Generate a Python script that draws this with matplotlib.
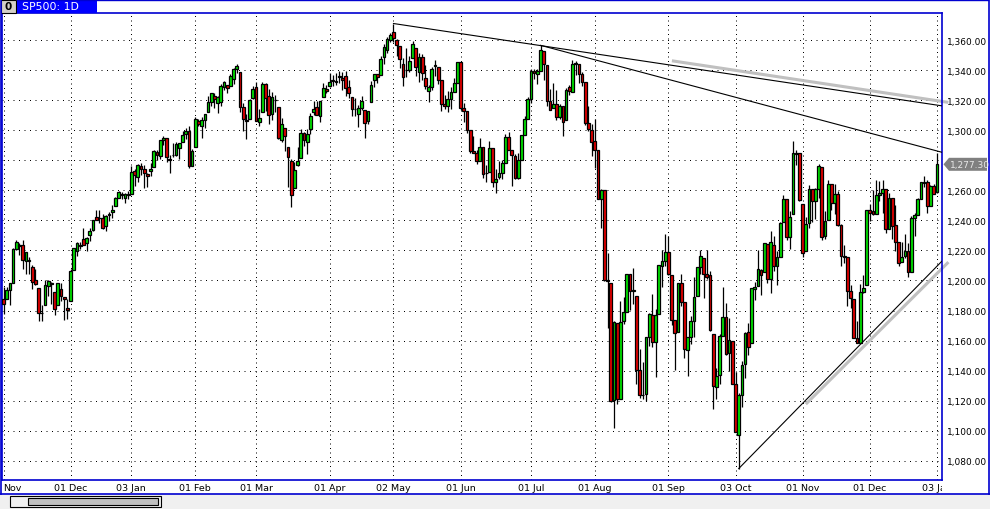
import numpy as np
import matplotlib
matplotlib.use("Agg")
import matplotlib.pyplot as plt
from matplotlib.patches import Rectangle, Polygon
from matplotlib.ticker import FixedLocator, FuncFormatter
from matplotlib.transforms import Bbox

symbol = "SP500: 1D"
last_price = 1277.30

# bars per month in the feed, Nov 2010 .. Jan 2012 (only Jan 3 of 2012)
month_days = [21, 19, 20, 19, 23, 20, 21, 22, 20, 23, 21, 21, 21, 21, 1]
month_labels = ["Nov", "01 Dec", "03 Jan", "01 Feb", "01 Mar", "01 Apr", "02 May",
                "01 Jun", "01 Jul", "01 Aug", "01 Sep", "03 Oct", "01 Nov",
                "01 Dec", "03 Jan"]
price_ticks = list(range(1080, 1361, 20))

opens = [
    1187.8, 1187.9, 1193.8, 1198.3, 1221.2, 1223.2, 1223.6, 1213.1, 1213.0, 1209.1, 1200.4, 1194.8, 1178.3, 1183.8, 1196.1, 1198.1, 1192.5, 1183.7, 1194.2, 1189.1, 1182.0,
    1186.6, 1206.8, 1219.9, 1223.9, 1227.3, 1225.0, 1230.1, 1233.9, 1242.5, 1241.8, 1241.6, 1236.3, 1243.6, 1245.8, 1249.4, 1254.9, 1257.5, 1254.7, 1256.8,
    1257.6, 1272.9, 1268.8, 1276.3, 1274.4, 1270.8, 1272.6, 1275.7, 1285.8, 1282.9, 1293.2, 1294.5, 1280.9, 1283.6, 1283.3, 1288.2, 1292.0, 1297.5, 1299.6, 1276.5,
    1289.1, 1305.9, 1302.8, 1307.0, 1311.9, 1318.8, 1322.5, 1318.1, 1318.7, 1328.7, 1330.4, 1329.5, 1334.4, 1340.4, 1338.9, 1315.4, 1307.1, 1307.3, 1321.6,
    1328.6, 1305.5, 1312.4, 1330.7, 1322.7, 1311.1, 1319.9, 1315.7, 1293.4, 1301.2, 1288.5, 1279.5, 1261.6, 1276.7, 1281.7, 1298.3, 1292.2, 1300.6, 1311.8, 1315.5, 1309.4, 1321.9, 1327.4,
    1329.5, 1333.6, 1332.0, 1335.9, 1334.8, 1336.2, 1329.0, 1322.0, 1314.0, 1311.1, 1314.5, 1313.4, 1306.0, 1319.1, 1333.2, 1337.1, 1336.8, 1348.4, 1353.5, 1360.1,
    1365.2, 1359.8, 1355.9, 1344.2, 1340.2, 1340.2, 1348.3, 1354.5, 1338.9, 1348.7, 1334.8, 1326.1, 1328.5, 1342.4, 1342.0, 1333.1, 1317.7, 1316.4, 1320.6, 1325.7, 1331.1,
    1345.2, 1314.6, 1312.9, 1300.3, 1286.3, 1284.6, 1279.6, 1288.6, 1271.6, 1272.2, 1287.9, 1265.5, 1268.6, 1271.5, 1278.4, 1295.5, 1286.6, 1283.0, 1268.4, 1280.2, 1296.9, 1307.6,
    1320.6, 1339.6, 1337.6, 1339.6, 1352.4, 1343.3, 1319.6, 1314.5, 1317.7, 1308.9, 1315.9, 1307.1, 1328.7, 1325.7, 1343.8, 1344.3, 1337.4, 1331.9, 1304.8, 1300.1,
    1292.6, 1286.6, 1254.3, 1260.2, 1200.3, 1198.5, 1120.2, 1171.8, 1121.3, 1172.9, 1178.9, 1204.2, 1192.9, 1189.6, 1140.5, 1123.6, 1124.4, 1162.2, 1176.7, 1158.9, 1177.9, 1209.8, 1213.0,
    1219.1, 1203.9, 1174.0, 1165.9, 1198.0, 1185.4, 1153.5, 1162.6, 1173.3, 1189.4, 1209.2, 1215.0, 1204.5, 1203.6, 1164.6, 1128.8, 1136.9, 1163.3, 1175.4, 1151.7, 1159.9,
    1131.2, 1097.4, 1124.0, 1144.1, 1166.0, 1158.2, 1194.6, 1196.2, 1207.0, 1205.7, 1224.5, 1200.8, 1223.5, 1209.9, 1215.4, 1238.7, 1254.0, 1229.2, 1244.0, 1284.4, 1285.0,
    1251.0, 1219.6, 1238.3, 1260.8, 1253.2, 1261.1, 1275.2, 1229.6, 1240.1, 1263.9, 1251.7, 1257.8, 1236.6, 1216.2, 1215.6, 1193.0, 1187.5, 1161.4, 1158.7, 1192.6, 1196.7,
    1246.9, 1246.0, 1244.3, 1257.2, 1258.1, 1260.9, 1234.5, 1255.1, 1236.8, 1225.7, 1212.1, 1216.1, 1219.7, 1205.7, 1241.3, 1243.7, 1254.0, 1265.0, 1265.4, 1249.8, 1262.8,
    1258.9,
]
highs = [
    1195.8, 1195.9, 1198.3, 1221.3, 1227.1, 1224.6, 1226.8, 1218.8, 1215.5, 1210.5, 1207.4, 1194.8, 1183.6, 1200.3, 1200.0, 1198.9, 1192.5, 1198.6, 1198.4, 1189.1, 1187.4,
    1207.6, 1221.9, 1225.6, 1225.8, 1235.1, 1228.9, 1234.7, 1240.4, 1246.7, 1246.6, 1244.3, 1243.8, 1245.8, 1250.2, 1255.8, 1259.4, 1258.6, 1258.4, 1259.3,
    1276.2, 1274.1, 1277.6, 1278.2, 1276.8, 1271.5, 1277.9, 1286.9, 1286.7, 1293.2, 1296.1, 1294.6, 1283.4, 1291.2, 1291.9, 1291.3, 1299.7, 1301.3, 1302.7, 1287.2,
    1308.9, 1307.6, 1308.6, 1311.0, 1322.9, 1324.9, 1324.5, 1322.8, 1330.8, 1332.9, 1330.4, 1337.6, 1341.5, 1344.1, 1338.9, 1317.9, 1310.9, 1320.6, 1329.4,
    1332.1, 1314.2, 1332.0, 1331.1, 1327.7, 1325.7, 1323.2, 1315.7, 1308.4, 1301.2, 1288.5, 1280.9, 1278.9, 1288.9, 1300.6, 1299.0, 1300.5, 1311.3, 1319.2, 1319.7, 1319.5, 1331.7, 1329.8,
    1337.9, 1336.7, 1338.2, 1339.4, 1338.8, 1339.5, 1333.2, 1322.0, 1321.4, 1316.8, 1322.9, 1313.4, 1312.7, 1332.7, 1337.5, 1337.6, 1349.6, 1357.5, 1361.7, 1364.6,
    1370.6, 1360.8, 1355.9, 1348.0, 1354.4, 1349.4, 1359.4, 1354.5, 1351.1, 1350.5, 1343.3, 1330.4, 1341.8, 1346.8, 1342.0, 1333.1, 1323.7, 1325.9, 1328.5, 1334.6, 1345.2,
    1345.2, 1318.0, 1312.9, 1300.3, 1296.2, 1287.0, 1294.5, 1288.6, 1277.0, 1292.5, 1287.9, 1274.1, 1279.8, 1280.4, 1297.6, 1298.6, 1286.6, 1283.9, 1284.9, 1296.8, 1309.2, 1322.0,
    1341.0, 1340.9, 1340.9, 1356.5, 1352.4, 1343.3, 1327.2, 1331.5, 1326.9, 1317.7, 1315.9, 1328.1, 1330.4, 1347.0, 1346.1, 1344.3, 1338.5, 1331.9, 1316.3, 1304.2,
    1307.4, 1286.6, 1261.2, 1260.2, 1218.1, 1198.5, 1172.9, 1171.8, 1186.3, 1189.0, 1204.5, 1204.2, 1208.5, 1189.6, 1154.5, 1145.5, 1162.4, 1178.6, 1190.7, 1181.2, 1210.3, 1220.1, 1230.7,
    1229.3, 1203.9, 1174.0, 1198.6, 1204.4, 1185.4, 1162.5, 1176.4, 1202.4, 1209.1, 1220.1, 1215.0, 1220.4, 1206.3, 1164.6, 1141.7, 1164.2, 1195.9, 1184.7, 1175.1, 1159.9,
    1139.0, 1125.1, 1146.1, 1165.6, 1171.4, 1194.9, 1199.2, 1220.3, 1207.5, 1224.6, 1224.5, 1233.1, 1229.6, 1219.4, 1239.0, 1256.6, 1254.0, 1246.3, 1292.7, 1287.1, 1285.0,
    1251.0, 1242.5, 1263.2, 1260.8, 1261.7, 1277.6, 1275.2, 1246.2, 1267.0, 1263.9, 1264.3, 1259.6, 1237.7, 1223.5, 1215.6, 1196.8, 1187.5, 1172.7, 1197.4, 1203.7, 1247.1,
    1251.1, 1260.1, 1266.7, 1266.0, 1267.1, 1260.9, 1258.3, 1255.1, 1249.9, 1225.7, 1225.6, 1231.0, 1224.6, 1242.8, 1245.1, 1255.2, 1265.4, 1269.4, 1267.0, 1263.5, 1264.1,
    1284.6,
]
lows = [
    1177.7, 1187.9, 1183.6, 1198.3, 1220.3, 1217.2, 1207.9, 1204.3, 1204.5, 1194.1, 1197.2, 1173.0, 1173.0, 1183.8, 1189.4, 1184.3, 1176.9, 1183.7, 1186.3, 1173.6, 1174.1,
    1186.6, 1206.8, 1216.6, 1220.7, 1223.3, 1219.5, 1226.2, 1232.6, 1240.3, 1238.2, 1234.0, 1232.9, 1239.9, 1241.5, 1249.4, 1254.9, 1254.0, 1251.5, 1254.2,
    1257.6, 1262.7, 1265.4, 1270.4, 1261.7, 1262.2, 1269.8, 1275.7, 1280.5, 1281.1, 1290.3, 1278.9, 1271.3, 1282.1, 1282.5, 1281.1, 1292.0, 1294.4, 1275.1, 1276.5,
    1289.1, 1302.6, 1294.8, 1301.7, 1311.9, 1316.0, 1314.9, 1311.7, 1316.1, 1326.9, 1324.6, 1329.5, 1331.0, 1338.1, 1312.3, 1299.6, 1294.3, 1307.3, 1320.9,
    1306.1, 1302.6, 1312.4, 1312.6, 1303.9, 1306.9, 1312.3, 1294.2, 1292.0, 1286.4, 1261.9, 1249.1, 1261.6, 1276.2, 1281.7, 1289.2, 1284.1, 1297.7, 1310.2, 1310.2, 1305.3, 1321.9, 1325.0,
    1328.9, 1329.1, 1330.0, 1331.1, 1326.6, 1322.9, 1321.1, 1309.5, 1309.2, 1302.4, 1313.7, 1294.7, 1304.0, 1319.1, 1328.8, 1331.7, 1336.8, 1344.2, 1351.6, 1358.7,
    1358.6, 1349.5, 1341.5, 1329.2, 1335.6, 1338.6, 1348.3, 1336.4, 1332.0, 1333.4, 1327.3, 1318.5, 1326.6, 1336.4, 1330.7, 1312.9, 1313.9, 1311.8, 1314.4, 1325.7, 1331.1,
    1313.7, 1305.6, 1297.9, 1284.9, 1284.7, 1277.4, 1279.6, 1268.3, 1265.6, 1272.2, 1261.9, 1258.1, 1267.4, 1267.6, 1278.4, 1286.8, 1262.9, 1267.2, 1267.5, 1280.2, 1296.9, 1307.6,
    1318.2, 1334.3, 1330.9, 1339.6, 1333.7, 1316.4, 1313.3, 1314.5, 1306.5, 1307.2, 1295.9, 1307.1, 1323.1, 1325.7, 1336.9, 1331.1, 1329.1, 1303.5, 1299.2, 1282.9,
    1274.7, 1254.0, 1234.6, 1199.5, 1168.1, 1119.3, 1101.5, 1118.0, 1121.3, 1170.7, 1178.9, 1180.5, 1184.5, 1131.0, 1122.1, 1121.1, 1120.1, 1156.3, 1155.5, 1135.9, 1177.9, 1195.8, 1209.4,
    1203.9, 1170.6, 1140.1, 1165.9, 1183.3, 1148.4, 1136.1, 1157.4, 1162.7, 1189.4, 1204.5, 1188.4, 1201.3, 1166.2, 1114.2, 1121.4, 1131.1, 1163.3, 1150.4, 1139.9, 1131.3,
    1098.9, 1074.8, 1116.0, 1134.9, 1150.3, 1158.2, 1187.3, 1196.2, 1190.6, 1205.7, 1198.6, 1191.5, 1206.3, 1197.3, 1215.4, 1238.7, 1226.8, 1221.1, 1244.0, 1277.0, 1253.2,
    1215.4, 1219.6, 1234.8, 1238.9, 1240.8, 1255.0, 1226.6, 1227.7, 1240.1, 1246.7, 1244.3, 1236.4, 1209.4, 1211.4, 1183.2, 1181.7, 1161.8, 1158.7, 1158.7, 1191.8, 1196.7,
    1239.7, 1243.4, 1244.3, 1253.0, 1244.8, 1231.5, 1234.5, 1227.3, 1219.4, 1209.5, 1212.1, 1215.2, 1202.4, 1205.7, 1229.5, 1243.7, 1254.0, 1262.3, 1244.7, 1249.8, 1257.5,
    1258.2,
]
closes = [
    1184.4, 1193.6, 1198.0, 1221.1, 1225.9, 1223.3, 1213.4, 1218.7, 1213.5, 1199.2, 1197.8, 1178.3, 1178.6, 1196.7, 1199.7, 1197.8, 1180.7, 1198.4, 1189.4, 1187.8, 1180.6,
    1206.1, 1221.5, 1224.7, 1223.1, 1223.8, 1228.3, 1233.0, 1240.4, 1240.5, 1241.6, 1235.2, 1242.9, 1243.9, 1247.1, 1254.6, 1258.8, 1256.8, 1257.5, 1257.6,
    1271.9, 1270.2, 1276.6, 1273.9, 1271.5, 1269.8, 1274.5, 1286.0, 1283.8, 1293.2, 1295.0, 1281.9, 1280.3, 1283.4, 1290.8, 1291.2, 1296.6, 1299.5, 1276.3, 1286.1,
    1307.6, 1304.0, 1307.1, 1310.9, 1319.1, 1324.6, 1320.9, 1321.9, 1329.2, 1332.3, 1328.0, 1336.3, 1340.4, 1343.0, 1315.4, 1307.4, 1306.1, 1319.9, 1327.2,
    1306.3, 1308.4, 1331.0, 1321.2, 1310.1, 1321.8, 1320.0, 1295.1, 1304.3, 1296.4, 1281.9, 1256.9, 1273.7, 1279.2, 1298.4, 1293.8, 1297.5, 1309.7, 1313.8, 1310.2, 1319.4, 1328.3, 1325.8,
    1332.4, 1332.9, 1332.6, 1335.5, 1333.5, 1328.2, 1324.5, 1314.2, 1314.4, 1314.5, 1319.7, 1305.1, 1312.6, 1330.4, 1337.4, 1335.3, 1347.2, 1355.7, 1360.5, 1363.6,
    1361.2, 1356.6, 1347.3, 1335.1, 1340.2, 1346.3, 1357.2, 1342.1, 1348.7, 1337.8, 1329.5, 1329.0, 1340.7, 1343.6, 1333.3, 1317.4, 1316.3, 1320.5, 1325.7, 1331.1, 1345.2,
    1314.6, 1312.9, 1300.2, 1286.2, 1284.9, 1279.6, 1289.0, 1271.0, 1271.8, 1287.9, 1265.4, 1267.6, 1271.5, 1278.4, 1295.5, 1287.1, 1283.5, 1268.5, 1280.1, 1296.7, 1307.4, 1320.6,
    1339.7, 1337.9, 1339.2, 1353.2, 1343.8, 1319.5, 1313.6, 1317.7, 1308.9, 1316.1, 1305.4, 1326.7, 1325.8, 1343.8, 1345.0, 1337.4, 1331.9, 1304.9, 1300.7, 1292.3,
    1286.9, 1254.1, 1260.3, 1200.1, 1199.4, 1119.5, 1172.5, 1120.8, 1172.6, 1178.8, 1204.5, 1192.8, 1193.9, 1140.7, 1123.5, 1123.8, 1162.4, 1177.6, 1159.3, 1176.8, 1210.1, 1212.9, 1218.9,
    1204.4, 1174.0, 1165.2, 1198.6, 1185.9, 1154.2, 1162.3, 1172.9, 1188.7, 1209.1, 1216.0, 1204.1, 1202.1, 1166.8, 1129.6, 1136.4, 1163.0, 1175.4, 1151.1, 1160.4, 1131.4,
    1099.2, 1124.0, 1144.0, 1165.0, 1155.5, 1194.9, 1195.5, 1207.3, 1203.7, 1224.6, 1200.9, 1225.4, 1209.9, 1215.4, 1238.3, 1254.2, 1229.1, 1242.0, 1284.6, 1285.1, 1253.3,
    1218.3, 1237.9, 1261.2, 1253.2, 1261.1, 1275.9, 1229.1, 1239.7, 1263.9, 1251.8, 1257.8, 1236.9, 1216.1, 1215.7, 1193.0, 1188.0, 1161.8, 1158.7, 1192.6, 1195.2, 1247.0,
    1244.6, 1244.3, 1257.1, 1258.5, 1261.0, 1234.4, 1255.2, 1236.5, 1225.7, 1211.8, 1215.8, 1219.7, 1205.4, 1241.3, 1243.7, 1254.0, 1265.3, 1265.4, 1249.6, 1263.0, 1257.6,
    1277.3,
]

# hand-drawn trend lines: (start bar, start price, end price at right edge)
trend_black = [(122, 1371.0, 1316.2), (168, 1356.5, 1285.3), (230, 1074.8, 1212.9)]
trend_grey = [(209.1, 1346.2, 1318.5), (251.0, 1117.7, 1212.2)]

W, H = 990, 510
BLUE = "#0000d0"
UP, DOWN = "#00e600", "#e60000"

fig = plt.figure(figsize=(W / 100, H / 100), dpi=100)
fig.patch.set_facecolor("white")
ax = fig.add_axes([2 / W, (H - 481) / H, 940 / W, 467 / H])

x = np.arange(len(closes))
o, h, l, c = (np.array(a) for a in (opens, highs, lows, closes))
up = c >= o
xmin, xmax = -0.47, len(closes) - 1 + 1.6

ax.vlines(x, l, h, color="black", lw=0.9, zorder=3)
ax.bar(x, np.maximum(np.abs(c - o), 0.15), bottom=np.minimum(o, c), width=0.86,
       color=np.where(up, UP, DOWN), edgecolor="black", linewidth=0.9, zorder=4)

for x0, p0, p1 in trend_black:
    ax.plot([x0, xmax], [p0, p1], color="black", lw=0.8, zorder=5)
for x0, p0, p1 in trend_grey:
    ax.plot([x0, xmax + 2], [p0, p1], color="#c0c0c0", lw=2.2, zorder=2,
            solid_capstyle="butt", clip_on=False)

ax.set_xlim(xmin, xmax)
ax.set_ylim(1067.2, 1378.0)

tick_idx = np.concatenate([[0], np.cumsum(month_days)[:-1]])
ax.xaxis.set_major_locator(FixedLocator(tick_idx))
ax.set_xticklabels(month_labels)
ax.yaxis.set_major_locator(FixedLocator(price_ticks))
# the 1,280.00 label sits under the last-price tag
ax.yaxis.set_major_formatter(FuncFormatter(
    lambda v, p: "" if abs(v - last_price) < 8 else f"{v:,.2f}"))
ax.yaxis.tick_right()
ax.tick_params(axis="y", length=0, pad=3.8, labelsize=6.5)
ax.tick_params(axis="x", length=0, pad=2.5, labelsize=6.8)
xl = ax.get_xticklabels()
xl[0].set_horizontalalignment("left")
# last date label is cut by the price scale, as in the terminal
xl[-1].set_clip_box(Bbox([[0, 0], [942, H]]))
xl[-1].set_clip_on(True)

ax.grid(axis="y", color="black", lw=0.72, linestyle=(0, (1, 4.5)))
ax.grid(axis="x", color="black", lw=0.72, linestyle=(0, (1, 3.5)))
ax.set_axisbelow(True)
for s in ax.spines.values():
    s.set_color(BLUE)
    s.set_linewidth(1.2)

# window chrome drawn in pixel coordinates
ui = fig.add_axes([0, 0, 1, 1])
ui.set_xlim(0, W)
ui.set_ylim(H, 0)
ui.axis("off")
ui.patch.set_alpha(0)

ui.add_patch(Rectangle((0, 495), W, 15, fc="#f0f0f0", ec="none"))
ui.plot([0, W], [495, 495], color=BLUE, lw=1.2)
ui.plot([988.5, 988.5], [0, 495], color=BLUE, lw=1.2)
ui.plot([1, 1], [0, 495], color=BLUE, lw=1.2)
ui.add_patch(Rectangle((10, 497), 151, 11, fc="#f0f0f0", ec="black", lw=0.8))
ui.add_patch(Rectangle((28, 499), 130, 7, fc="#c0c0c0", ec="black", lw=0.8))

ui.add_patch(Rectangle((1, 0.5), 15, 13, fc="#d4d0c8", ec="black", lw=0.8))
ui.text(8.5, 7, "0", ha="center", va="center", fontsize=7.5, fontweight="bold")
ui.add_patch(Rectangle((17, 0), 80, 14, fc="#0000ff", ec="none"))
ui.plot([17, 988], [0.5, 0.5], color=BLUE, lw=1)
ui.text(22, 7.5, symbol, color="white", ha="left", va="center", fontsize=7.8)

# last price tag on the right scale
yp = H - ax.transData.transform((0, last_price))[1]
ui.add_patch(Polygon([(943.5, yp), (949, yp - 6.5), (987, yp - 6.5), (987, yp + 6.5),
                      (949, yp + 6.5)], closed=True, fc="#808080", ec="none"))
ui.text(949.5, yp, f"{last_price:,.2f}", color="#e8e8e8", ha="left", va="center",
        fontsize=6.5)

fig.savefig("out.png", dpi=100)
